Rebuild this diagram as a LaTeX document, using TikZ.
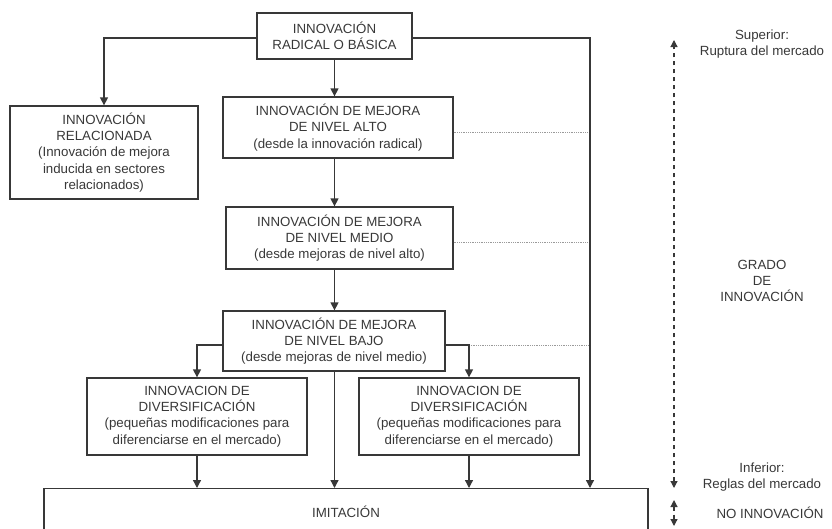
\documentclass[tikz,border=0pt]{standalone}
\usepackage{fontspec}
\setmainfont{Liberation Sans}
\usetikzlibrary{arrows.meta}
\definecolor{ink}{HTML}{383838}
\definecolor{dotgray}{HTML}{9A9A9A}
\begin{document}
\begin{tikzpicture}[x=1pt,y=-1pt,
  every node/.style={text=ink},
  txt/.style={font=\fontsize{13.3}{16.3}\selectfont, align=center},
  box/.style={txt, draw=ink, line width=1.3pt, inner sep=0pt},
  link/.style={draw=ink, line width=1.3pt},
  arr/.style={link, -{Triangle[length=8pt,width=8pt]}},
  guide/.style={draw=dotgray, line width=0.8pt, densely dotted},
  gaugearrow/.style={draw=ink, line width=1.2pt, dash pattern=on 4.5pt off 3.5pt,
    {Triangle[length=7pt,width=7pt]}-{Triangle[length=7pt,width=7pt]}}]
\useasboundingbox (0,0) rectangle (832,528);
\clip (0,0) rectangle (832,528);

% main chain of boxes
\node[box, minimum width=155, minimum height=46] (top) at (334.5,36)
  {INNOVACIÓN\\RADICAL O BÁSICA};
\node[box, minimum width=188, minimum height=93] (rel) at (104,152.5)
  {INNOVACIÓN\\RELACIONADA\\(Innovación de mejora\\inducida en sectores\\relacionados)};
\node[box, minimum width=230, minimum height=61] (alto) at (338,127.5)
  {INNOVACIÓN DE MEJORA\\DE NIVEL ALTO\\(desde la innovación radical)};
\node[box, minimum width=227, minimum height=62] (medio) at (339.5,238)
  {INNOVACIÓN DE MEJORA\\DE NIVEL MEDIO\\(desde mejoras de nivel alto)};
\node[box, minimum width=222, minimum height=60] (bajo) at (334,341)
  {INNOVACIÓN DE MEJORA\\DE NIVEL BAJO\\(desde mejoras de nivel medio)};
\node[box, minimum width=220, minimum height=77] (divl) at (197,416.5)
  {INNOVACION DE\\DIVERSIFICACIÓN\\(pequeñas modificaciones para\\diferenciarse en el mercado)};
\node[box, minimum width=220, minimum height=77] (divr) at (469,416.5)
  {INNOVACION DE\\DIVERSIFICACIÓN\\(pequeñas modificaciones para\\diferenciarse en el mercado)};
\node[box, minimum width=604, minimum height=80, anchor=north,
  label={[txt, anchor=center, yshift=-24pt]north:IMITACIÓN}] (imit) at (346,488) {};

% right-hand rail from the radical innovation down to imitation
\coordinate (rtop) at (590,38);
\coordinate (rbot) at (590,488);

% dotted level guides
\draw[guide] (alto.east |- 0,132) -- (rtop |- 0,132);
\draw[guide] (medio.east |- 0,242) -- (rtop |- 0,242);
\draw[guide] (divr.north |- 0,345) -- (rtop |- 0,345);

% connectors
\draw[arr] (top.west |- rtop) -| (rel.north);
\draw[arr] (top.east |- rtop) -- (rtop) -- (rbot);
\draw[arr] (top.south) -- (top.south |- alto.north);
\draw[arr] (top.south |- alto.south) -- (top.south |- medio.north);
\draw[arr] (top.south |- medio.south) -- (top.south |- bajo.north);
\draw[arr] (top.south |- bajo.south) -- (top.south |- imit.north);
\draw[arr] (bajo.west |- 0,345) -| (divl.north);
\draw[arr] (bajo.east |- 0,345) -| (divr.north);
\draw[arr] (divl.south) -- (divl.south |- imit.north);
\draw[arr] (divr.south) -- (divr.south |- imit.north);

% degree-of-innovation gauge
\coordinate (sup) at (674,40);
\coordinate (inf) at (674,488);
\coordinate (nitop) at (674,500);
\coordinate (nibot) at (674,526);
\draw[gaugearrow] (inf) -- (sup);
\draw[gaugearrow] (nitop) -- (nibot);

\node[txt] (lsup) at (762,44) {Superior:\\Ruptura del mercado};
\node[txt] (lgrado) at (762,281) {GRADO\\DE\\INNOVACIÓN};
\node[txt] (linf) at (762,477) {Inferior:\\Reglas del mercado};
\node[txt] (lno) at (770,513) {NO INNOVACIÓN};
\end{tikzpicture}
\end{document}
